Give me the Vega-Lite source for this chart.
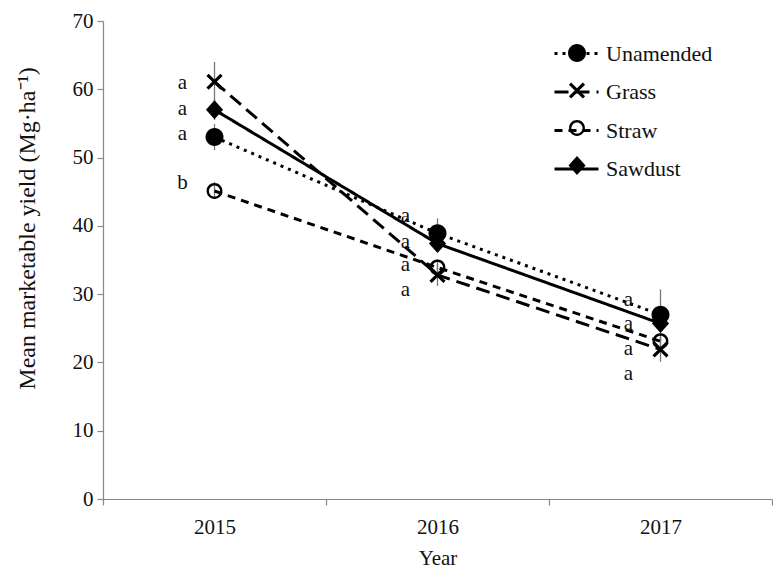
{
  "$schema": "https://vega.github.io/schema/vega-lite/v6.json",
  "width": 669,
  "height": 478,
  "autosize": {"type": "none"},
  "padding": {"left": 103, "top": 21, "right": 1, "bottom": 70},
  "background": "white",
  "config": {
    "view": {"stroke": null},
    "font": "Liberation Serif",
    "axis": {
      "labelFont": "Liberation Serif",
      "titleFont": "Liberation Serif",
      "labelFontSize": 21,
      "titleFontSize": 21,
      "labelColor": "#111",
      "titleColor": "#111",
      "titleFontWeight": "normal",
      "domainColor": "#888",
      "tickColor": "#888",
      "domainWidth": 1.2,
      "tickWidth": 1.2,
      "tickSize": 6,
      "grid": false
    },
    "legend": {
      "labelFont": "Liberation Serif",
      "labelFontSize": 22,
      "labelColor": "#111"
    }
  },
  "datasets": {
    "yield": [
      {"year": "2015", "series": "Sawdust", "mean": 57.0, "lo": 55.5, "hi": 58.6},
      {"year": "2016", "series": "Sawdust", "mean": 37.4, "lo": 36.3, "hi": 38.6},
      {"year": "2017", "series": "Sawdust", "mean": 25.7, "lo": 24.5, "hi": 26.9},
      {"year": "2015", "series": "Straw", "mean": 45.1, "lo": 44.0, "hi": 46.4},
      {"year": "2016", "series": "Straw", "mean": 33.9, "lo": 32.6, "hi": 35.1},
      {"year": "2017", "series": "Straw", "mean": 23.1, "lo": 21.9, "hi": 24.3},
      {"year": "2015", "series": "Grass", "mean": 61.1, "lo": 58.2, "hi": 64.0},
      {"year": "2016", "series": "Grass", "mean": 32.8, "lo": 31.2, "hi": 34.4},
      {"year": "2017", "series": "Grass", "mean": 21.9, "lo": 20.1, "hi": 23.7},
      {"year": "2015", "series": "Unamended", "mean": 53.0, "lo": 51.1, "hi": 54.9},
      {"year": "2016", "series": "Unamended", "mean": 38.9, "lo": 36.7, "hi": 41.1},
      {"year": "2017", "series": "Unamended", "mean": 27.0, "lo": 23.3, "hi": 30.7}
    ],
    "letters": [
      {"year": "2015", "letter": "a", "pos": 60.9},
      {"year": "2015", "letter": "a", "pos": 57.1},
      {"year": "2015", "letter": "a", "pos": 53.4},
      {"year": "2015", "letter": "b", "pos": 46.3},
      {"year": "2016", "letter": "a", "pos": 41.5},
      {"year": "2016", "letter": "a", "pos": 37.7},
      {"year": "2016", "letter": "a", "pos": 34.2},
      {"year": "2016", "letter": "a", "pos": 30.6},
      {"year": "2017", "letter": "a", "pos": 29.2},
      {"year": "2017", "letter": "a", "pos": 25.7},
      {"year": "2017", "letter": "a", "pos": 21.9},
      {"year": "2017", "letter": "a", "pos": 18.3}
    ]
  },
  "layer": [
    {
      "data": {"name": "yield"},
      "mark": {"type": "rule", "color": "#777", "strokeWidth": 1.3},
      "encoding": {
        "x": {"field": "year", "type": "nominal", "bandPosition": 0.5,
          "scale": {"type": "band", "paddingInner": 0, "paddingOuter": 0},
          "axis": {"title": "Year", "labelAngle": 0, "tickBand": "extent", "labelPadding": 11, "titlePadding": 10}},
        "y": {"field": "lo", "type": "quantitative",
          "scale": {"domain": [0, 70], "nice": false, "zero": true},
          "axis": {"title": "Mean marketable yield (Mg·ha⁻¹)", "values": [0, 10, 20, 30, 40, 50, 60, 70], "labelPadding": 4,
            "titleFontSize": 24, "titleX": -76, "titleY": 207, "titleAlign": "center", "titleBaseline": "middle", "titleAngle": -90}},
        "y2": {"field": "hi"}
      }
    },
    {
      "data": {"name": "yield"},
      "mark": {"type": "line", "color": "black", "strokeWidth": 3, "strokeCap": "butt"},
      "encoding": {
        "x": {"field": "year", "type": "nominal", "bandPosition": 0.5},
        "y": {"field": "mean", "type": "quantitative"},
        "strokeDash": {"field": "series", "type": "nominal",
          "scale": {"domain": ["Unamended", "Grass", "Straw", "Sawdust"], "range": [[3, 5], [14, 7], [8, 6], [1, 0]]},
          "legend": {"title": null, "orient": "none", "legendX": 462, "legendY": 21, "padding": 0,
            "symbolType": "M-2.2,0H2.2", "symbolSize": 400, "symbolStrokeWidth": 3, "symbolStrokeColor": "black",
            "labelOffset": 18, "rowPadding": 15.5}}
      }
    },
    {
      "data": {"name": "yield"},
      "mark": {"type": "point", "filled": true, "color": "black", "strokeWidth": 0, "size": 324, "opacity": 1},
      "encoding": {
        "x": {"field": "year", "type": "nominal", "bandPosition": 0.5},
        "y": {"field": "mean", "type": "quantitative"},
        "shape": {"field": "series", "type": "nominal", "sort": ["Unamended", "Grass", "Straw", "Sawdust"],
          "scale": {"range": [
            "M-1,0A1,1 0 1,0 1,0A1,1 0 1,0 -1,0Z",
            "M-0.65,-0.9L0,-0.25L0.65,-0.9L0.9,-0.65L0.25,0L0.9,0.65L0.65,0.9L0,0.25L-0.65,0.9L-0.9,0.65L-0.25,0L-0.9,-0.65Z",
            "M-0.88,0A0.88,0.88 0 1,0 0.88,0A0.88,0.88 0 1,0 -0.88,0Z M-0.62,0A0.62,0.62 0 1,1 0.62,0A0.62,0.62 0 1,1 -0.62,0Z",
            "M0,-1.05L0.95,0L0,1.05L-0.95,0Z"]},
          "legend": {"title": null, "orient": "none", "legendX": 463, "legendY": 21, "padding": 0,
            "symbolSize": 324, "symbolStrokeWidth": 0, "symbolFillColor": "black",
            "labelExpr": "''", "labelColor": "transparent", "rowPadding": 15.5}}
      }
    },
    {
      "data": {"name": "letters"},
      "mark": {"type": "text", "font": "Liberation Serif", "fontSize": 21, "color": "#111", "dx": -32, "align": "center", "baseline": "middle"},
      "encoding": {
        "x": {"field": "year", "type": "nominal", "bandPosition": 0.5},
        "y": {"field": "pos", "type": "quantitative"},
        "text": {"field": "letter"}
      }
    }
  ]
}
